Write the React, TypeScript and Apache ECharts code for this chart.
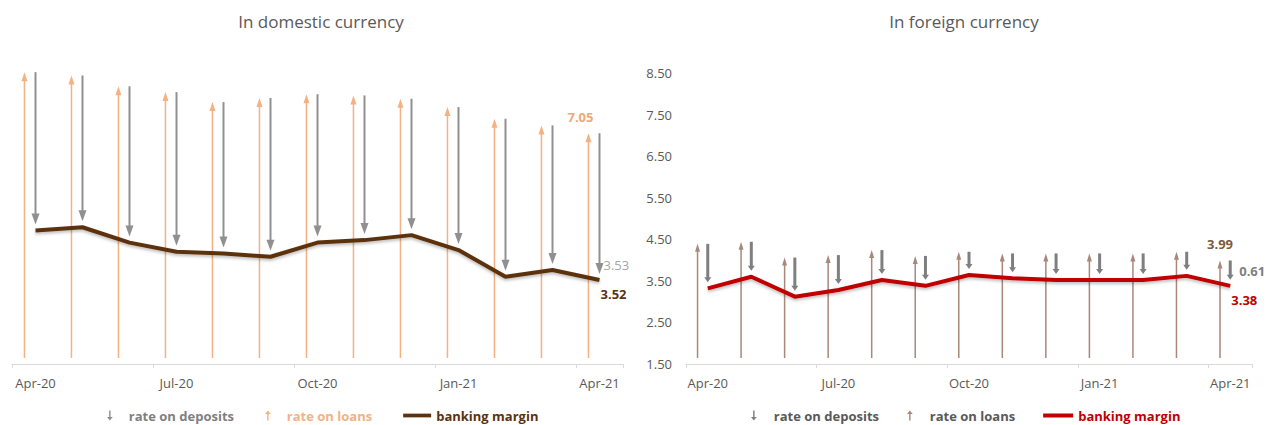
import React, { useEffect, useRef } from "react";
import * as echarts from "echarts";

const categories = ["Apr-20", "May-20", "Jun-20", "Jul-20", "Aug-20", "Sep-20", "Oct-20", "Nov-20", "Dec-20", "Jan-21", "Feb-21", "Mar-21", "Apr-21"];

// In domestic currency
const domLoans = [8.52, 8.44, 8.18, 8.04, 7.8, 7.9, 7.99, 7.96, 7.88, 7.68, 7.4, 7.24, 7.05];
const domDeposits = [3.81, 3.65, 3.76, 3.84, 3.64, 3.82, 3.57, 3.48, 3.28, 3.44, 3.8, 3.48, 3.53];
const domMargin = [4.71, 4.79, 4.42, 4.2, 4.16, 4.08, 4.42, 4.48, 4.6, 4.24, 3.6, 3.76, 3.52];

// In foreign currency
const forLoans = [4.39, 4.44, 4.06, 4.12, 4.24, 4.1, 4.2, 4.16, 4.16, 4.16, 4.16, 4.2, 3.99];
const forDeposits = [1.07, 0.84, 0.94, 0.84, 0.72, 0.72, 0.56, 0.6, 0.64, 0.64, 0.64, 0.58, 0.61];
const forMargin = [3.32, 3.6, 3.12, 3.28, 3.52, 3.38, 3.64, 3.56, 3.52, 3.52, 3.52, 3.62, 3.38];

const yMin = 1.5;
const yMax = 8.5;
const FONT = "'Open Sans', 'Noto Sans', sans-serif";

function arrowShapes(x: number, yFrom: number, yTo: number, color: string, lw: number, hw: number, hl: number) {
  const sign = yTo > yFrom ? 1 : -1;
  return [
    {
      type: "line",
      shape: { x1: x, y1: yFrom, x2: x, y2: yTo - sign * hl * 0.7 },
      style: { stroke: color, lineWidth: lw },
    },
    {
      type: "polygon",
      shape: { points: [[x - hw / 2, yTo - sign * hl], [x + hw / 2, yTo - sign * hl], [x, yTo]] },
      style: { fill: color },
    },
  ];
}

type Cfg = {
  loanColor: string;
  depColor: string;
  marginColor: string;
  loanLabelColor: string;
  depLabelColor: string;
  loanLw: number;
  loanHw: number;
  loanHl: number;
  depLw: number;
  depHw: number;
  depHl: number;
  loanOffset: number;
  loanLabelDx: number;
  depLabelDx: number;
  depLabelWeight: string;
};

const domCfg: Cfg = {
  loanColor: "#f4b183",
  depColor: "#909090",
  marginColor: "#5c3210",
  loanLabelColor: "#f0a878",
  depLabelColor: "#a6a6a6",
  loanLw: 1.5,
  loanHw: 6,
  loanHl: 9,
  depLw: 2,
  depHw: 8,
  depHl: 11,
  loanOffset: -0.235,
  loanLabelDx: -8,
  depLabelDx: 4,
  depLabelWeight: "normal",
};

const forCfg: Cfg = {
  loanColor: "#a8887a",
  depColor: "#7f7f7f",
  marginColor: "#c00000",
  loanLabelColor: "#7a5b40",
  depLabelColor: "#7f7f7f",
  loanLw: 1.5,
  loanHw: 5,
  loanHl: 8,
  depLw: 3,
  depHw: 7,
  depHl: 5,
  loanOffset: -0.235,
  loanLabelDx: 0,
  depLabelDx: 9,
  depLabelWeight: "bold",
};

function loanSeries(idx: number, loans: number[], cfg: Cfg) {
  return {
    type: "custom",
    name: "rate on loans",
    xAxisIndex: idx,
    yAxisIndex: idx,
    itemStyle: { color: cfg.loanColor },
    z: 2,
    data: loans.map((v, i) => [i, v]),
    renderItem: (params: any, api: any) => {
      const i = api.value(0);
      const v = api.value(1);
      const top = api.coord([i, v]);
      const base = api.coord([i, yMin]);
      const bw = api.size([1, 0])[0];
      const x = top[0] + cfg.loanOffset * bw;
      const children: any[] = arrowShapes(x, base[1] - 6, top[1], cfg.loanColor, cfg.loanLw, cfg.loanHw, cfg.loanHl);
      if (params.dataIndex === loans.length - 1) {
        children.push({
          type: "text",
          x: x + cfg.loanLabelDx,
          y: top[1] - 16,
          style: {
            text: v.toFixed(2),
            fill: cfg.loanLabelColor,
            fontSize: 13,
            fontWeight: "bold",
            fontFamily: FONT,
            align: "center",
            verticalAlign: "middle",
          },
        });
      }
      return { type: "group", children };
    },
  };
}

function depositSeries(idx: number, loans: number[], deps: number[], cfg: Cfg) {
  return {
    type: "custom",
    name: "rate on deposits",
    xAxisIndex: idx,
    yAxisIndex: idx,
    itemStyle: { color: cfg.depColor },
    z: 2,
    data: loans.map((v, i) => [i, v, deps[i]]),
    renderItem: (params: any, api: any) => {
      const i = api.value(0);
      const loan = api.value(1);
      const dep = api.value(2);
      const top = api.coord([i, loan]);
      const end = api.coord([i, loan - dep]);
      const x = top[0];
      const children: any[] = arrowShapes(x, top[1], end[1] - 6, cfg.depColor, cfg.depLw, cfg.depHw, cfg.depHl);
      if (params.dataIndex === loans.length - 1) {
        children.push({
          type: "text",
          x: x + cfg.depLabelDx,
          y: end[1] - 15,
          style: {
            text: dep.toFixed(2),
            fill: cfg.depLabelColor,
            fontSize: 13,
            fontWeight: cfg.depLabelWeight,
            fontFamily: FONT,
            align: "left",
            verticalAlign: "middle",
          },
        });
      }
      return { type: "group", children };
    },
  };
}

function marginSeries(idx: number, margin: number[], cfg: Cfg) {
  return {
    type: "line",
    name: "banking margin",
    xAxisIndex: idx,
    yAxisIndex: idx,
    z: 3,
    symbol: "circle",
    symbolSize: 0.1,
    showSymbol: true,
    itemStyle: { color: cfg.marginColor },
    lineStyle: {
      color: cfg.marginColor,
      width: 4,
      shadowColor: "rgba(0,0,0,0.25)",
      shadowBlur: 3,
      shadowOffsetY: 2,
    },
    data: margin.map((v, i) =>
      i === margin.length - 1
        ? {
            value: v,
            label: {
              show: true,
              position: "right",
              distance: 1,
              offset: [0, 14],
              formatter: (p: any) => Number(p.value).toFixed(2),
              color: cfg.marginColor,
              fontSize: 13,
              fontWeight: "bold",
              fontFamily: FONT,
            },
          }
        : v
    ),
  };
}

function xAxis(idx: number) {
  return {
    type: "category",
    gridIndex: idx,
    data: categories,
    boundaryGap: true,
    axisLine: { show: true, lineStyle: { color: "#d9d9d9", width: 1 } },
    axisTick: { show: true, interval: 2, length: 4, lineStyle: { color: "#d9d9d9" } },
    axisLabel: { interval: 2, color: "#595959", fontSize: 13, fontFamily: FONT, margin: 12 },
    splitLine: { show: false },
  };
}

const legendIconDown = "path://M4,0 L6,0 L6,9 L9,9 L5,14 L1,9 L4,9 Z";
const legendIconUp = "path://M5,0 L9,5 L6,5 L6,14 L4,14 L4,5 L1,5 Z";
const legendIconLine = "path://M0,0 L30,0 L30,4 L0,4 Z";

export default function App() {
  const ref = useRef<HTMLDivElement>(null);
  useEffect(() => {
    if (!ref.current) return;
    const chart = echarts.init(ref.current, undefined, { renderer: "svg" });
    const option: any = {
      animation: false,
      backgroundColor: "#ffffff",
      textStyle: { fontFamily: FONT },
      title: [
        {
          text: "In domestic currency",
          left: 316,
          top: 8,
          textAlign: "center",
          textStyle: { color: "#595959", fontSize: 17, fontWeight: "normal", fontFamily: FONT },
        },
        {
          text: "In foreign currency",
          left: 959,
          top: 8,
          textAlign: "center",
          textStyle: { color: "#595959", fontSize: 17, fontWeight: "normal", fontFamily: FONT },
        },
      ],
      grid: [
        { left: 12, top: 73, width: 611, height: 291 },
        { left: 686, top: 73, width: 566, height: 291 },
      ],
      xAxis: [xAxis(0), xAxis(1)],
      yAxis: [
        { type: "value", gridIndex: 0, min: yMin, max: yMax, interval: 1, show: false, splitLine: { show: false } },
        {
          type: "value",
          gridIndex: 1,
          min: yMin,
          max: yMax,
          interval: 1,
          axisLine: { show: false },
          axisTick: { show: false },
          splitLine: { show: false },
          axisLabel: {
            color: "#595959",
            fontSize: 13,
            fontFamily: FONT,
            margin: 14,
            formatter: (v: number) => v.toFixed(2),
          },
        },
      ],
      legend: [
        {
          left: 102,
          top: 404,
          itemWidth: 28,
          itemHeight: 10,
          itemGap: 31,
          selectedMode: false,
          textStyle: { fontSize: 13, fontFamily: FONT },
          data: [
            { name: "rate on deposits", icon: legendIconDown, itemStyle: { color: domCfg.depColor }, textStyle: { color: "#7f7f7f", fontWeight: "bold" } },
            { name: "rate on loans", icon: legendIconUp, itemStyle: { color: domCfg.loanColor }, textStyle: { color: "#f4b183", fontWeight: "bold" } },
            { name: "banking margin", icon: legendIconLine, itemStyle: { color: domCfg.marginColor }, textStyle: { color: "#5c3210", fontWeight: "bold" } },
          ],
        },
        {
          left: 746,
          top: 404,
          itemWidth: 30,
          itemHeight: 10,
          itemGap: 28,
          selectedMode: false,
          textStyle: { fontSize: 13, fontFamily: FONT },
          data: [
            { name: "rate on deposits", icon: legendIconDown, itemStyle: { color: forCfg.depColor }, textStyle: { color: "#595959", fontWeight: "bold" } },
            { name: "rate on loans", icon: legendIconUp, itemStyle: { color: forCfg.loanColor }, textStyle: { color: "#595959", fontWeight: "bold" } },
            { name: "banking margin", icon: legendIconLine, itemStyle: { color: forCfg.marginColor }, textStyle: { color: "#c00000", fontWeight: "bold" } },
          ],
        },
      ],
      series: [
        loanSeries(0, domLoans, domCfg),
        depositSeries(0, domLoans, domDeposits, domCfg),
        marginSeries(0, domMargin, domCfg),
        loanSeries(1, forLoans, forCfg),
        depositSeries(1, forLoans, forDeposits, forCfg),
        marginSeries(1, forMargin, forCfg),
      ],
    };
    chart.setOption(option);
    return () => chart.dispose();
  }, []);
  return <div ref={ref} style={{ position: "absolute", left: 0, top: 0, width: 1268, height: 425 }} />;
}
